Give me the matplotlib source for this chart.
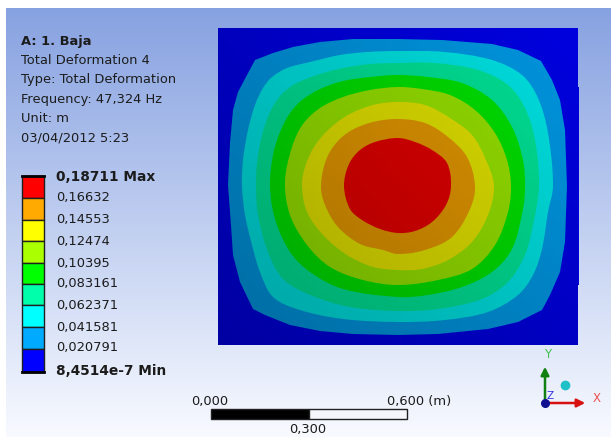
import numpy as np
import matplotlib
matplotlib.use('Agg')
import matplotlib.pyplot as plt
from matplotlib.colors import LinearSegmentedColormap
from matplotlib.patches import Rectangle, PathPatch
from matplotlib.path import Path

# Contour outlines (image pixels), from top middle round the left side
ring_1_x = [398, 353, 320, 293, 273, 255, 247, 238, 233, 230, 228, 231, 233, 240, 253, 265, 290, 320, 353, 398, 438, 488, 518, 542, 550, 560, 565, 567, 565, 560, 552, 541, 518, 492, 442]
ring_1_y = [39, 39, 42, 47, 53, 60, 75, 92, 110, 143, 185, 225, 255, 282, 309, 315, 325, 331, 334, 335, 334, 329, 322, 310, 295, 272, 242, 186, 130, 100, 80, 61, 50, 44, 40]
ring_2_x = [398, 367, 340, 310, 287, 272, 263, 255, 248, 243, 242, 245, 252, 260, 273, 300, 343, 398, 445, 488, 518, 533, 542, 548, 553, 548, 538, 522, 492, 445]
ring_2_y = [51, 52, 55, 62, 68, 77, 88, 105, 130, 160, 186, 215, 245, 272, 297, 310, 319, 322, 320, 312, 295, 275, 249, 212, 186, 133, 98, 75, 60, 52]
ring_3_x = [398, 370, 343, 317, 295, 281, 270, 262, 257, 256, 258, 268, 283, 310, 350, 398, 438, 482, 508, 525, 533, 539, 535, 525, 508, 478, 435]
ring_3_y = [63, 64, 68, 75, 84, 95, 112, 135, 163, 186, 215, 252, 279, 295, 307, 311, 309, 299, 282, 255, 225, 186, 140, 108, 85, 70, 63]
ring_4_x = [398, 370, 343, 320, 302, 290, 280, 273, 270, 275, 290, 310, 343, 398, 428, 462, 492, 512, 523, 525, 523, 512, 492, 462, 428]
ring_4_y = [75, 77, 81, 89, 100, 113, 132, 155, 186, 219, 252, 272, 289, 297, 295, 287, 272, 249, 209, 186, 160, 127, 100, 83, 77]
ring_5_x = [398, 370, 343, 320, 303, 292, 285, 290, 307, 330, 363, 398, 438, 472, 495, 508, 511, 507, 495, 475, 450, 422]
ring_5_y = [87, 90, 97, 108, 124, 147, 182, 215, 245, 267, 280, 285, 280, 269, 245, 212, 186, 160, 133, 110, 95, 89]
ring_6_x = [398, 373, 348, 328, 314, 305, 302, 307, 323, 347, 373, 398, 422, 448, 472, 488, 494, 486, 472, 450, 425]
ring_6_y = [102, 105, 115, 130, 147, 167, 186, 212, 235, 255, 267, 270, 269, 260, 242, 215, 186, 160, 135, 118, 105]
ring_7_x = [398, 373, 352, 337, 326, 321, 325, 338, 360, 383, 398, 425, 452, 470, 475, 467, 448, 425]
ring_7_y = [119, 122, 130, 142, 160, 186, 205, 227, 244, 250, 254, 250, 237, 209, 186, 157, 137, 123]
ring_8_x = [398, 375, 360, 349, 344, 350, 362, 380, 398, 415, 432, 446, 451, 447, 432, 415]
ring_8_y = [138, 142, 150, 164, 186, 209, 220, 229, 233, 231, 222, 205, 186, 163, 150, 142]

rings_x = [ring_1_x, ring_2_x, ring_3_x, ring_4_x, ring_5_x, ring_6_x, ring_7_x, ring_8_x]
rings_y = [ring_1_y, ring_2_y, ring_3_y, ring_4_y, ring_5_y, ring_6_y, ring_7_y, ring_8_y]

# legend, top to bottom
legend_labels = ['0,18711 Max', '0,16632', '0,14553', '0,12474', '0,10395',
                 '0,083161', '0,062371', '0,041581', '0,020791', '8,4514e-7 Min']
legend_colors = ['#ff0000', '#ffaa00', '#ffff00', '#aaff00', '#00ff00',
                 '#00ffaa', '#00ffff', '#00aaff', '#0000ff']
plate_colors = legend_colors[::-1]

info_lines = ['A: 1. Baja', 'Total Deformation 4', 'Type: Total Deformation',
              'Frequency: 47,324 Hz', 'Unit: m', '03/04/2012 5:23']

plt.rcParams['font.family'] = ['DejaVu Sans']
text_col = '#1c1c1c'
fs = 9.4


def smooth_ring(xs, ys):
    # closed bezier path through the read points, handles scaled to segment length
    pts = np.column_stack([xs, ys]).astype(float)
    n = len(pts)
    tang = []
    for i in range(n):
        d = pts[(i + 1) % n] - pts[i - 1]
        tang.append(d / np.hypot(*d))
    verts = [pts[0]]
    codes = [Path.MOVETO]
    for i in range(n):
        j = (i + 1) % n
        seg = np.hypot(*(pts[j] - pts[i]))
        verts += [pts[i] + tang[i] * seg / 3, pts[j] - tang[j] * seg / 3, pts[j]]
        codes += [Path.CURVE4] * 3
    return Path(verts, codes)


fig = plt.figure(figsize=(6.11, 4.37), dpi=100, facecolor='white')
ax = fig.add_axes([0, 0, 1, 1])

# background gradient
bg = LinearSegmentedColormap.from_list('bg', ['#87a2e1', '#f8faff'])
ax.imshow(np.linspace(0, 1, 256).reshape(-1, 1), cmap=bg, extent=[6, 611, 437, 8],
          aspect='auto', zorder=0)

# plate, with the small step on its right edge
ax.add_patch(Rectangle((218, 28), 360, 317, fc=plate_colors[0], ec='none', zorder=1))
ax.add_patch(Rectangle((578, 87), 1.3, 198, fc='#0000d8', ec='none', zorder=1))
for i in range(8):
    if i == 0:
        ax.fill(rings_x[i], rings_y[i], color=plate_colors[1], lw=0, zorder=2)
    else:
        ax.add_patch(PathPatch(smooth_ring(rings_x[i], rings_y[i]), fc=plate_colors[i + 1],
                               ec='none', zorder=2 + i))

# lighting on the plate, darker towards bottom left
gx, gy = np.meshgrid(np.linspace(0, 1, 64), np.linspace(0, 1, 64))
shade = np.zeros((64, 64, 4))
shade[..., 3] = 0.13 + 0.13 * (1 - gx) + 0.11 * gy
ax.imshow(shade, extent=[218, 578, 345, 28], aspect='auto', zorder=12)

ax.set_xlim(0, 611)
ax.set_ylim(437, 0)
ax.axis('off')

# info block
info_y = 41
for i, line in enumerate(info_lines):
    ax.text(21, info_y + i * 19.4, line, fontsize=fs, color=text_col, va='center',
            fontweight='bold' if i == 0 else 'normal', zorder=20)

# legend bar
edges = [176, 198, 220, 241, 263, 284, 305, 327, 349, 372]
for i, c in enumerate(legend_colors):
    ax.add_patch(Rectangle((22, edges[i]), 22, edges[i + 1] - edges[i], fc=c,
                           ec='#202020', lw=1.0, zorder=5))
ax.plot([22, 44], [176, 176], color='black', lw=2, zorder=6)
ax.plot([22, 44], [372, 372], color='black', lw=2, zorder=6)

label_y = [177, 197, 219, 241, 263, 283, 305, 327, 348, 371]
for i, lab in enumerate(legend_labels):
    bold = i == 0 or i == len(legend_labels) - 1
    ax.text(56.5, label_y[i], lab, fontsize=9.9 if bold else fs, color=text_col, va='center',
            fontweight='bold' if bold else 'normal', zorder=20)

# scale bar
ax.add_patch(Rectangle((211, 409), 98, 10, fc='black', ec='#202020', lw=1, zorder=5))
ax.add_patch(Rectangle((309, 409), 98, 10, fc='#f4f6fc', ec='#202020', lw=1, zorder=5))
ax.text(210, 402, '0,000', fontsize=fs, color=text_col, ha='center', va='center')
ax.text(387, 402, '0,600 (m)', fontsize=fs, color=text_col, ha='left', va='center')
ax.text(308, 430, '0,300', fontsize=fs, color=text_col, ha='center', va='center')

# axis triad
ax.annotate('', xy=(545, 364), xytext=(545, 403),
            arrowprops=dict(arrowstyle='-|>', color='#108010', lw=1.8, mutation_scale=12), zorder=7)
ax.annotate('', xy=(588, 403), xytext=(545, 403),
            arrowprops=dict(arrowstyle='-|>', color='#d81010', lw=1.8, mutation_scale=12), zorder=7)
ax.plot([545], [403], 'o', color='#101090', ms=5.5, zorder=8)
ax.plot([565], [385], 'o', color='#20c0c8', ms=6, zorder=8)
ax.text(548, 354, 'Y', fontsize=8.5, color='#40c050', ha='center', va='center')
ax.text(597, 398, 'X', fontsize=8.5, color='#f05050', ha='center', va='center')
ax.text(550.5, 396, 'Z', fontsize=7.5, color='#3030e0', ha='center', va='center')

plt.savefig('out.png', dpi=100)
